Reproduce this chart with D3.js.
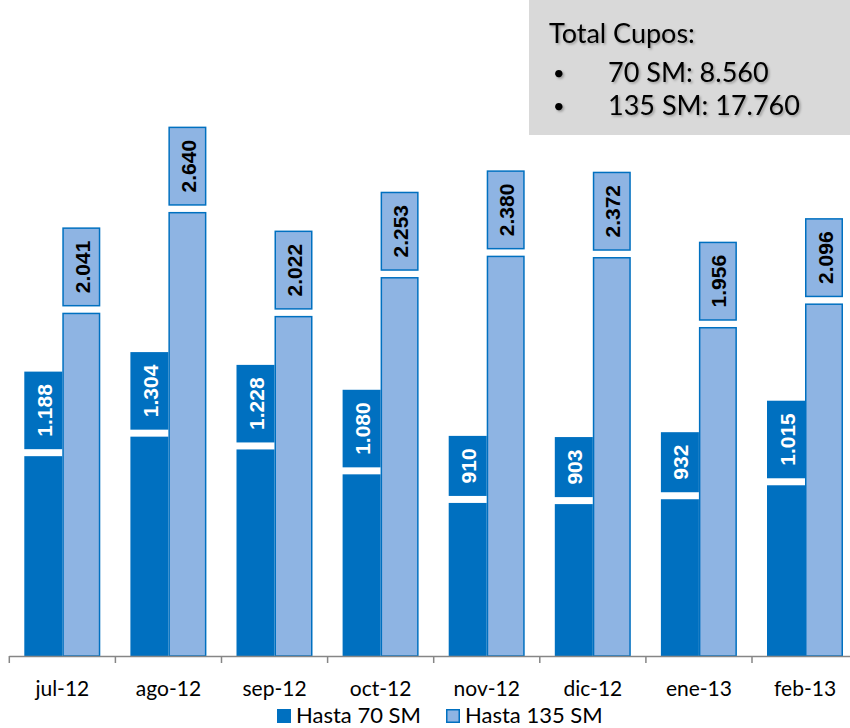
<!DOCTYPE html>
<html>
<head>
<meta charset="utf-8">
<script src="https://cdn.jsdelivr.net/npm/d3@7"></script>
<style>
  body { margin: 0; background: #fff; }
  svg { display: block; }
</style>
</head>
<body>
<div id="chart"></div>
<script>
var months = ["jul-12", "ago-12", "sep-12", "oct-12", "nov-12", "dic-12", "ene-13", "feb-13"];
var hasta70 = [1188, 1304, 1228, 1080, 910, 903, 932, 1015];
var hasta135 = [2041, 2640, 2022, 2253, 2380, 2372, 1956, 2096];
var seriesNames = ["Hasta 70 SM", "Hasta 135 SM"];
var totalTitle = "Total Cupos:";
var totalLines = ["70 SM: 8.560", "135 SM: 17.760"];

var W = 850, H = 728;
var dark = "#0070C0", light = "#8EB4E3";
var catFont = "Lato, 'Open Sans', sans-serif";
var lblFont = "'Liberation Sans', Arial, sans-serif";

var es = d3.formatLocale({decimal: ",", thousands: ".", grouping: [3], currency: ["", ""]});
var fmt = es.format(",d");

var svg = d3.select("#chart").append("svg").attr("width", W).attr("height", H);

var x = d3.scaleBand().domain(months).range([9.3, 858.1]);
var xs = d3.scaleBand().domain([0, 1]).range([15, 91]);
var y = d3.scaleLinear().domain([0, 3900]).range([656, 0]);

var rows = months.map(function (m, i) {
    return {month: m, vals: [hasta70[i], hasta135[i]]};
});

var groups = svg.selectAll("g.grp").data(rows).enter().append("g")
    .attr("class", "grp")
    .attr("transform", function (d) { return "translate(" + x(d.month) + ",0)"; });

var bars = groups.selectAll("g.bar").data(function (d) {
    return d.vals.map(function (v, k) { return {v: v, k: k}; });
}).enter().append("g").attr("class", "bar");

bars.append("rect")
    .attr("x", function (d) { return xs(d.k) + (d.k ? 0.75 : 0); })
    .attr("y", function (d) { return y(d.v) + (d.k ? 0.75 : 0); })
    .attr("width", function (d) { return xs.bandwidth() - (d.k ? 1.5 : 0); })
    .attr("height", function (d) { return y(0) - y(d.v) - (d.k ? 0.75 : 0); })
    .attr("fill", function (d) { return d.k ? light : dark; })
    .attr("stroke", function (d) { return d.k ? dark : "none"; })
    .attr("stroke-width", 1.5);

// value labels: rotated text in a box sitting just above each bar
bars.each(function (d) {
    var g = d3.select(this);
    var cx = xs(d.k) + xs.bandwidth() / 2;
    var bottom = y(d.v) - 7;
    var box = g.append("rect");
    var t = g.append("text")
        .attr("font-family", lblFont)
        .attr("font-weight", "bold")
        .attr("font-size", 21)
        .attr("fill", d.k ? "#000" : "#fff")
        .attr("text-anchor", "middle")
        .attr("dominant-baseline", "central")
        .text(fmt(d.v));
    var len = t.node().getComputedTextLength();
    var h = len + 25;
    var cy = bottom - h / 2;
    t.attr("transform", "translate(" + (cx + 1) + "," + cy + ") rotate(-90)");
    box.attr("x", xs(d.k) + (d.k ? 0.75 : 0))
        .attr("y", bottom - h)
        .attr("width", xs.bandwidth() - (d.k ? 1.5 : 0))
        .attr("height", h)
        .attr("fill", d.k ? light : dark)
        .attr("stroke", d.k ? dark : "none")
        .attr("stroke-width", 1.5);
});

// x axis
var axis = svg.append("g").attr("transform", "translate(0," + y(0) + ")")
    .call(d3.axisBottom(x).tickSize(0).tickPadding(25));
axis.select(".domain").attr("stroke", "#868686").attr("stroke-width", 1.5)
    .attr("d", "M9.3,0.5H858");
axis.selectAll(".tick text")
    .attr("font-family", catFont).attr("font-size", 21).attr("fill", "#000");
axis.selectAll("line.sep").data(months.concat(["end"])).enter().append("line")
    .attr("class", "sep")
    .attr("x1", function (d) { return d === "end" ? x.range()[1] : x(d); })
    .attr("x2", function (d) { return d === "end" ? x.range()[1] : x(d); })
    .attr("y1", 0).attr("y2", 7)
    .attr("stroke", "#868686").attr("stroke-width", 1.5);

// legend
var legX = [277, 446];
var leg = svg.selectAll("g.leg").data(seriesNames).enter().append("g")
    .attr("class", "leg")
    .attr("transform", function (d, i) { return "translate(" + legX[i] + ",709)"; });
leg.append("rect")
    .attr("x", function (d, i) { return i ? 0.75 : 0; })
    .attr("y", function (d, i) { return i ? 0.75 : 0; })
    .attr("width", function (d, i) { return i ? 12.5 : 14; })
    .attr("height", function (d, i) { return i ? 12.5 : 14; })
    .attr("fill", function (d, i) { return i ? light : dark; })
    .attr("stroke", function (d, i) { return i ? dark : "none"; })
    .attr("stroke-width", 1.5);
leg.append("text")
    .attr("x", 19).attr("y", 14)
    .attr("font-family", catFont).attr("font-size", 22).attr("fill", "#000")
    .text(function (d) { return d; });

// total box
var defs = svg.append("defs");
defs.append("filter").attr("id", "shadow")
    .attr("x", "-10%").attr("y", "-30%").attr("width", "130%").attr("height", "170%")
    .append("feDropShadow")
    .attr("dx", 1.5).attr("dy", 1.5).attr("stdDeviation", 1.2)
    .attr("flood-color", "#000").attr("flood-opacity", 0.3);

var tb = svg.append("g");
tb.append("rect").attr("x", 529).attr("y", 0).attr("width", W - 529).attr("height", 135)
    .attr("fill", "#D9D9D9");
tb.append("text").attr("x", 549).attr("y", 43)
    .attr("font-family", catFont).attr("font-size", 27).attr("fill", "#000")
    .attr("filter", "url(#shadow)")
    .text(totalTitle);
var tl = tb.selectAll("g.tl").data(totalLines).enter().append("g").attr("class", "tl")
    .attr("filter", "url(#shadow)");
tl.append("text").attr("x", 553).attr("y", function (d, i) { return 80 + i * 33; })
    .attr("font-family", catFont).attr("font-size", 20).attr("fill", "#000")
    .text("\u2022");
tl.append("text").attr("x", 608).attr("y", function (d, i) { return 82 + i * 33; })
    .attr("font-family", catFont).attr("font-size", 27).attr("fill", "#000")
    .text(function (d) { return d; });
</script>
</body>
</html>
